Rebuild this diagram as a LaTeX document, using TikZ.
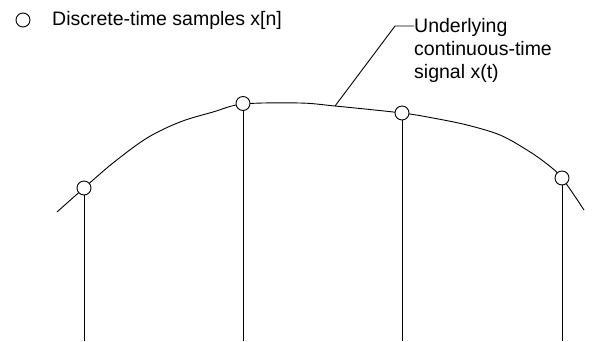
\documentclass[tikz,border=0pt]{standalone}
\usepackage{fontspec}
\setmainfont{Liberation Sans}
\begin{document}
\begin{tikzpicture}[x=1bp,y=-1bp,
  samp/.style={circle,draw,fill=white,line width=0.9bp,minimum size=14bp,inner sep=0pt},
  lbl/.style={font=\fontsize{19.5bp}{23bp}\selectfont,inner sep=0pt},
  ln/.style={line width=0.9bp}]
\useasboundingbox (0,0) rectangle (601,341);
% curve
\draw[ln] plot[smooth,tension=0.55] coordinates {(57,212) (84,188) (113,163) (147,138) (180,122) (213,112) (243,104) (300,103) (335,106) (402,113) (433,118) (467,125) (500,135) (527,150) (547,164) (562,178) (584,210)};
% stems
\coordinate (b1) at (84,341);
\coordinate (b2) at (243,341);
\coordinate (b3) at (402,341);
\coordinate (b4) at (562,341);
\node[samp] (s1) at (84,188) {};
\node[samp] (s2) at (243,103.5) {};
\node[samp] (s3) at (402,113) {};
\node[samp] (s4) at (562,178) {};
\draw[ln] (s1.south) -- (b1);
\draw[ln] (s2.south) -- (b2);
\draw[ln] (s3.south) -- (b3);
\draw[ln] (s4.south) -- (b4);
% legend
\node[samp] (leg) at (23,20) {};
\node[lbl,anchor=west] (legt) at (52,20) {Discrete-time samples x[n]};
% annotation
\coordinate (cp) at (335,106);
\coordinate (kn) at (395,26);
\node[lbl,anchor=north west,align=left] (ann) at (414,18) {Underlying\\continuous-time\\signal x(t)};
\draw[ln] (cp) -- (kn) -- (414,26);
\end{tikzpicture}
\end{document}
